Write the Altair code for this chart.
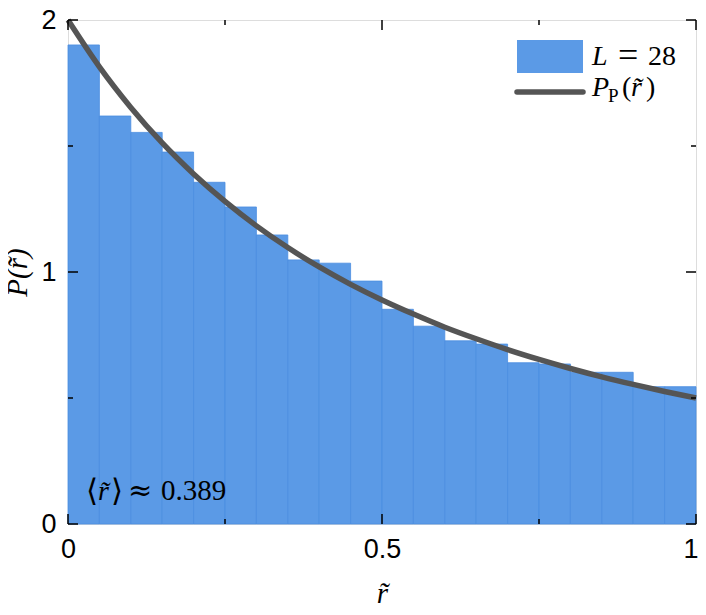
import altair as alt
import pandas as pd

# ---- data ----
bin_start = [0.00, 0.05, 0.10, 0.15, 0.20, 0.25, 0.30, 0.35, 0.40, 0.45,
             0.50, 0.55, 0.60, 0.65, 0.70, 0.75, 0.80, 0.85, 0.90, 0.95]
bin_end = [0.05, 0.10, 0.15, 0.20, 0.25, 0.30, 0.35, 0.40, 0.45, 0.50,
           0.55, 0.60, 0.65, 0.70, 0.75, 0.80, 0.85, 0.90, 0.95, 1.00]
density = [1.901, 1.619, 1.554, 1.476, 1.356, 1.258, 1.147, 1.048, 1.035, 0.964,
           0.852, 0.785, 0.727, 0.714, 0.640, 0.635, 0.602, 0.602, 0.545, 0.545]

curve_r = [0.00, 0.05, 0.10, 0.15, 0.20, 0.25, 0.30, 0.35, 0.40, 0.45, 0.50,
           0.55, 0.60, 0.65, 0.70, 0.75, 0.80, 0.85, 0.90, 0.95, 1.00]
curve_p = [2.000, 1.814, 1.653, 1.512, 1.389, 1.280, 1.183, 1.097, 1.020, 0.951, 0.889,
           0.833, 0.781, 0.735, 0.692, 0.653, 0.617, 0.584, 0.554, 0.526, 0.500]

x_major = [0.0, 0.5, 1.0]
x_minor = [0.25, 0.75]
y_major = [0.0, 1.0, 2.0]
y_minor = [0.5, 1.5]

W, H = 628, 504
BAR = "#5b9ae6"
LINE = "#555555"
SANS = "Liberation Sans"
SERIF = "Liberation Serif"
MATH = "DejaVu Serif"

hist = pd.DataFrame({"x0": bin_start, "x1": bin_end, "p": density})
curve = pd.DataFrame({"r": curve_r, "p": curve_p})
one = pd.DataFrame({"a": [0]})

xs = alt.Scale(domain=[0, 1], nice=False, zero=False)
ys = alt.Scale(domain=[0, 2], nice=False)

xaxis = alt.Axis(values=x_major, format="~g", ticks=False, domain=False, grid=False,
                 labelFont=SANS, labelFontSize=27, labelColor="black", labelPadding=12,
                 labelFlush=False,
                 labelAlign={"condition": {"test": "datum.value >= 1", "value": "right"},
                             "value": "center"},
                 labelOffset={"condition": {"test": "datum.value >= 1", "value": 2},
                              "value": 0},
                 title="r\u0303", titleFont=SERIF, titleFontStyle="italic",
                 titleFontWeight="normal", titleFontSize=29, titleColor="black", titlePadding=17)
yaxis = alt.Axis(values=y_major, format="~g", ticks=False, domain=False, grid=False,
                 labelFont=SANS, labelFontSize=27, labelColor="black", labelPadding=12,
                 labelFlush=False, title="P(r\u0303)", titleFont=SERIF, titleFontStyle="italic",
                 titleFontWeight="normal", titleFontSize=29, titleColor="black", titlePadding=8)

bars = alt.Chart(hist).mark_rect(color=BAR, stroke="#4a8ddf", strokeWidth=0.8).encode(
    x=alt.X("x0:Q", scale=xs, axis=xaxis),
    x2="x1:Q",
    y=alt.Y("p:Q", scale=ys, axis=yaxis),
    y2=alt.datum(0),
)

line = alt.Chart(curve).mark_line(color=LINE, strokeWidth=5.5, interpolate="monotone").encode(
    x=alt.X("r:Q", scale=xs), y=alt.Y("p:Q", scale=ys)
)

def xticks(vals, ln):
    d = pd.DataFrame({"v": vals})
    b = alt.Chart(d).mark_rule(color="black", strokeWidth=1.5).encode(
        x=alt.X("v:Q", scale=xs), y=alt.value(H), y2=alt.value(H - ln))
    t = alt.Chart(d).mark_rule(color="black", strokeWidth=1.5).encode(
        x=alt.X("v:Q", scale=xs), y=alt.value(0), y2=alt.value(ln))
    return [b, t]

def yticks(vals, ln):
    d = pd.DataFrame({"v": vals})
    l = alt.Chart(d).mark_rule(color="black", strokeWidth=1.5).encode(
        y=alt.Y("v:Q", scale=ys), x=alt.value(0), x2=alt.value(ln))
    r = alt.Chart(d).mark_rule(color="black", strokeWidth=1.5).encode(
        y=alt.Y("v:Q", scale=ys), x=alt.value(W), x2=alt.value(W - ln))
    return [l, r]

def txt(s, x, y, size=28, italic=False, font=SERIF):
    kw = dict(text=s, font=font, fontSize=size, align="left", baseline="alphabetic", color="black")
    if italic:
        kw["fontStyle"] = "italic"
    return alt.Chart(one).mark_text(**kw).encode(x=alt.value(x), y=alt.value(y))

legend_rect = alt.Chart(one).mark_rect(color=BAR).encode(
    x=alt.value(449), x2=alt.value(515), y=alt.value(20), y2=alt.value(53))
legend_line = alt.Chart(one).mark_rule(color=LINE, strokeWidth=5.5, strokeCap="round").encode(
    x=alt.value(449), x2=alt.value(515), y=alt.value(72))

texts = [
    txt("L", 524, 45, italic=True),
    txt("=", 550, 47, size=36),
    txt("28", 580, 45),
    txt("P", 524, 76, italic=True),
    txt("P", 540, 82, size=19),
    txt("(", 554, 76),
    txt("r\u0303", 563, 76, italic=True),
    txt(")", 578, 76),
    txt("\u27e8", 18, 481, size=31),
    txt("r\u0303", 30, 480, italic=True),
    txt("\u27e9", 43, 481, size=31),
    txt("\u2248", 60, 480, size=29, font=MATH),
    txt("0.389", 93, 480, size=29),
]

layers = [bars, line] + xticks(x_major, 10) + xticks(x_minor, 5) + yticks(y_major, 10) + \
    yticks(y_minor, 5) + [legend_rect, legend_line] + texts

chart = alt.layer(*layers).properties(
    width=W, height=H,
    autosize=alt.AutoSizeParams(type="none"),
    padding={"left": 60, "top": 12, "right": 2, "bottom": 83},
).configure_view(stroke="black", strokeWidth=1.5).configure(background="white")

chart.save("out.html", embed_options={"renderer": "svg", "actions": False})
